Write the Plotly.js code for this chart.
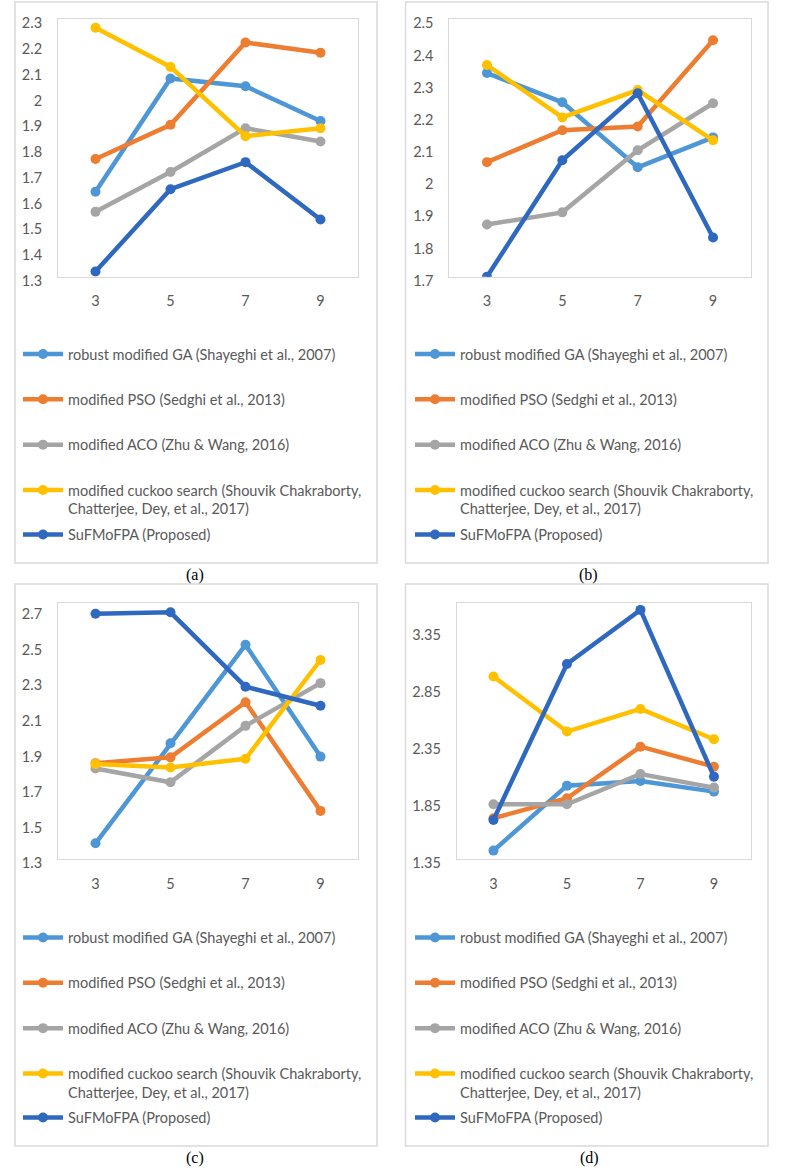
<!DOCTYPE html>
<html><head><meta charset="utf-8">
<script src="https://cdn.plot.ly/plotly-3.0.1.min.js"></script>
<style>html,body{margin:0;padding:0;background:#fff}#chart{width:787px;height:1168px}</style>
</head><body><div id="chart"></div>
<script>
// ---------- data ----------
const categories = ['3', '5', '7', '9'];
const seriesNames = [
  'robust modified GA (Shayeghi et al., 2007)',
  'modified PSO (Sedghi et al., 2013)',
  'modified ACO (Zhu & Wang, 2016)',
  'modified cuckoo search (Shouvik Chakraborty,<br>Chatterjee, Dey, et al., 2017)',
  'SuFMoFPA (Proposed)'
];
const seriesColors = ['#4E97D6', '#ED7D31', '#A5A5A5', '#FFC000', '#2F68BF'];
const panelLabels = ['(a)', '(b)', '(c)', '(d)'];

// panel (a)
const a_GA   = [1.63, 2.07, 2.04, 1.905];
const a_PSO  = [1.757, 1.89, 2.21, 2.17];
const a_ACO  = [1.552, 1.707, 1.877, 1.825];
const a_CS   = [2.267, 2.115, 1.846, 1.877];
const a_SuF  = [1.32, 1.64, 1.745, 1.522];
// panel (b)
const b_GA   = [2.333, 2.242, 2.04, 2.133];
const b_PSO  = [2.056, 2.155, 2.167, 2.435];
const b_ACO  = [1.862, 1.9, 2.093, 2.239];
const b_CS   = [2.358, 2.195, 2.28, 2.124];
const b_SuF  = [1.70, 2.062, 2.27, 1.822];
// panel (c)
const c_GA   = [1.39, 1.952, 2.505, 1.877];
const c_PSO  = [1.84, 1.873, 2.183, 1.572];
const c_ACO  = [1.81, 1.733, 2.05, 2.29];
const c_CS   = [1.835, 1.816, 1.865, 2.42];
const c_SuF  = [2.68, 2.688, 2.27, 2.163];
// panel (d)
const d_GA   = [1.426, 1.994, 2.035, 1.942];
const d_PSO  = [1.709, 1.884, 2.335, 2.16];
const d_ACO  = [1.831, 1.831, 2.096, 1.977];
const d_CS   = [2.948, 2.467, 2.665, 2.40];
const d_SuF  = [1.694, 3.058, 3.531, 2.073];

// y-axis settings per panel
const yRanges = [[1.3, 2.3], [1.7, 2.5], [1.3, 2.742], [1.35, 3.594]];
const yTick0  = [1.3, 1.7, 1.3, 1.35];
const yDtick  = [0.1, 0.1, 0.2, 0.5];

const panelSeries = [
  [a_GA, a_PSO, a_ACO, a_CS, a_SuF],
  [b_GA, b_PSO, b_ACO, b_CS, b_SuF],
  [c_GA, c_PSO, c_ACO, c_CS, c_SuF],
  [d_GA, d_PSO, d_ACO, d_CS, d_SuF]
];

// ---------- layout geometry (pixels) ----------
const W = 787, H = 1168;
const px = v => v / W;
const py = v => 1 - v / H;

const plotBoxes = [ // [left, right, top, bottom]
  [58, 358, 19.3, 276.7],
  [449.3, 750.7, 19.3, 276.7],
  [58, 358, 602.7, 859.3],
  [456.7, 750.7, 602.7, 859.3]
];
const outerBoxes = [
  [15, 377, 2, 563],
  [405.5, 768, 2, 563],
  [15, 377, 584, 1146],
  [405.5, 768, 584, 1146]
];
const captionPos = [[195, 575], [588, 575], [195, 1158], [589, 1158]];
const legendLeft = [18, 410, 18, 410];
const legendTop  = [338, 338, 921.5, 921.5];
const legendSuFTop = [518.5, 518.5, 1101.5, 1101.5];

const FONT = 'Lato, "Open Sans", sans-serif';
const TXT = '#595959';

const traces = [];
const layout = {
  width: W, height: H,
  margin: {l: 0, r: 0, t: 0, b: 0},
  paper_bgcolor: '#ffffff',
  plot_bgcolor: '#ffffff',
  showlegend: true,
  font: {family: FONT, color: TXT, size: 14.5},
  shapes: [],
  annotations: []
};

for (let p = 0; p < 4; p++) {
  const sfx = p === 0 ? '' : String(p + 1);
  const xa = 'x' + sfx, ya = 'y' + sfx;
  const legMain = p === 0 ? 'legend' : 'legend' + (p + 1);
  const legSuF = 'legend' + (p + 5);
  const series = panelSeries[p];
  for (let s = 0; s < 5; s++) {
    traces.push({
      type: 'scatter', mode: 'lines+markers',
      x: categories, y: series[s],
      xaxis: xa, yaxis: ya,
      name: seriesNames[s],
      legend: s === 4 ? legSuF : legMain,
      legendgroup: 'p' + p + 's' + s,
      line: {color: seriesColors[s], width: 4.5},
      marker: {color: seriesColors[s], size: 10},
      hoverinfo: 'x+y+name'
    });
  }
  const b = plotBoxes[p];
  layout['xaxis' + sfx] = {
    domain: [px(b[0]), px(b[1])],
    anchor: ya,
    type: 'category',
    range: [-0.5, 3.5],
    showgrid: false, zeroline: false,
    showline: true, mirror: true, linecolor: '#d9d9d9', linewidth: 1,
    ticks: '', ticklabelstandoff: 11,
    tickfont: {family: FONT, size: 14.5, color: TXT},
    fixedrange: true
  };
  layout['yaxis' + sfx] = {
    domain: [py(b[3]), py(b[2])],
    anchor: xa,
    range: yRanges[p],
    tick0: yTick0[p], dtick: yDtick[p], tickmode: 'linear',
    showgrid: false, zeroline: false,
    showline: true, mirror: true, linecolor: '#d9d9d9', linewidth: 1,
    ticks: '', ticklabelstandoff: 12, ticklabelshift: 4,
    tickfont: {family: FONT, size: 14.5, color: TXT},
    fixedrange: true
  };
  const legBase = {
    xanchor: 'left', yanchor: 'top',
    bgcolor: 'rgba(0,0,0,0)', borderwidth: 0,
    traceorder: 'grouped', tracegroupgap: 23.5,
    valign: 'top', itemwidth: 40,
    itemclick: false, itemdoubleclick: false,
    font: {family: FONT, size: 14.5, color: TXT}
  };
  layout[legMain] = Object.assign({}, legBase, {x: px(legendLeft[p]), y: py(legendTop[p])});
  layout[legSuF] = Object.assign({}, legBase, {x: px(legendLeft[p]), y: py(legendSuFTop[p])});

  const o = outerBoxes[p];
  layout.shapes.push({
    type: 'rect', xref: 'paper', yref: 'paper',
    x0: px(o[0]), x1: px(o[1]), y0: py(o[3]), y1: py(o[2]),
    line: {color: '#d9d9d9', width: 1.5}, fillcolor: 'rgba(0,0,0,0)', layer: 'below'
  });
  layout.annotations.push({
    xref: 'paper', yref: 'paper', x: px(captionPos[p][0]), y: py(captionPos[p][1]),
    xanchor: 'center', yanchor: 'middle', showarrow: false,
    text: panelLabels[p],
    font: {family: '"Liberation Serif", "Times New Roman", serif', size: 16, color: '#000000'}
  });
}

Plotly.newPlot('chart', traces, layout, {displayModeBar: false, staticPlot: false});
</script>
</body></html>
